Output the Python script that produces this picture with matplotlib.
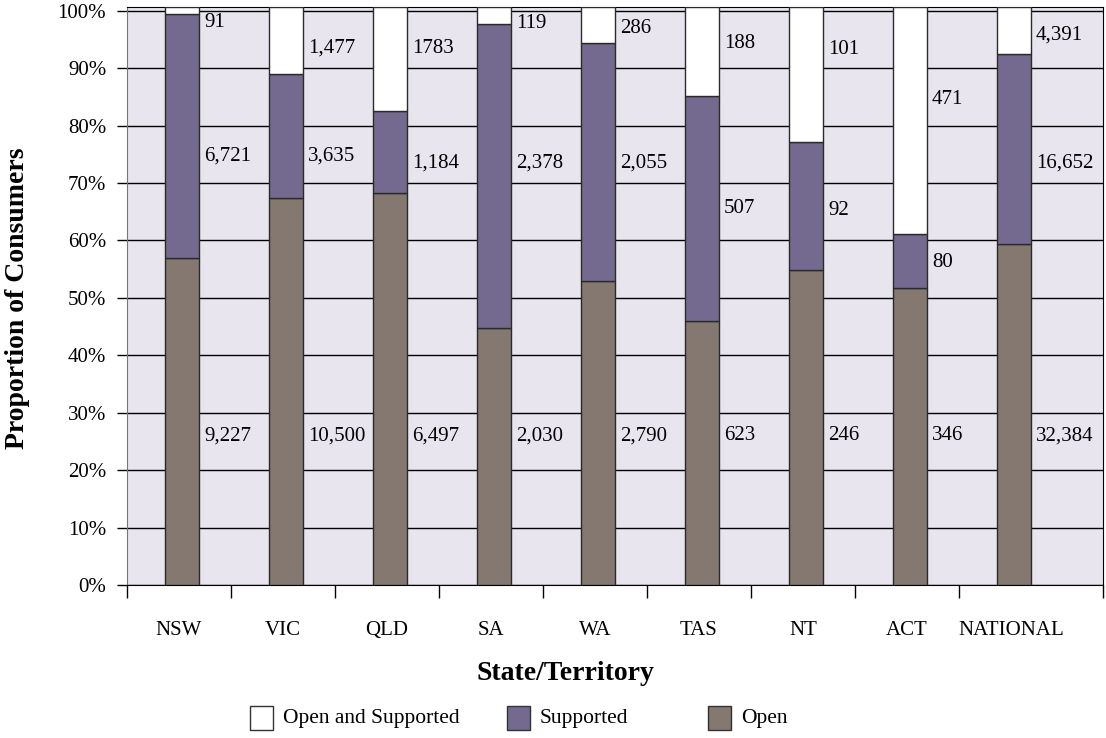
import matplotlib
matplotlib.use("Agg")
import matplotlib.pyplot as plt
import numpy as np
from matplotlib.patches import Rectangle

states = ['NSW', 'VIC', 'QLD', 'SA', 'WA', 'TAS', 'NT', 'ACT', 'NATIONAL']
# bar shares (%)
open_pct = [56.9, 67.4, 68.2, 44.8, 53.0, 46.0, 54.8, 51.7, 59.4]
supported_pct = [42.6, 21.5, 14.3, 52.9, 41.4, 39.1, 22.3, 9.4, 33.1]
# consumer counts printed beside the bars
open_n = ['9,227', '10,500', '6,497', '2,030', '2,790', '623', '246', '346', '32,384']
supported_n = ['6,721', '3,635', '1,184', '2,378', '2,055', '507', '92', '80', '16,652']
both_n = ['91', '1,477', '1783', '119', '286', '188', '101', '471', '4,391']

c_open = '#847871'
c_supp = '#746a8f'
c_both = '#ffffff'
bg = '#e8e5ee'

plt.rcParams['font.family'] = ['Liberation Serif', 'DejaVu Serif']

fig = plt.figure(figsize=(11.06, 7.38), dpi=100)
ax = fig.add_axes([127 / 1106, 1 - 585 / 738, (1103 - 127) / 1106, (585 - 7.3) / 738])
ax.set_facecolor(bg)
ymax = 100.6

x = np.arange(len(states)) + 0.03
w = 0.32
op = np.array(open_pct)
sp = np.array(supported_pct)
ax.bar(x, op, w, color=c_open, edgecolor='#2a2a2a', linewidth=1, zorder=3)
ax.bar(x, sp, w, bottom=op, color=c_supp, edgecolor='#2a2a2a', linewidth=1, zorder=3)
ax.bar(x, ymax - op - sp, w, bottom=op + sp, color=c_both, edgecolor='#2a2a2a',
       linewidth=1, zorder=3)

# label heights (%) as placed in the original chart
open_lab_y = [26.0] * 9
supp_lab_y = [74.7, 74.7, 73.5, 73.5, 73.5, 65.5, 65.2, 56.1, 73.5]
both_lab_y = [98.0, 93.5, 93.5, 97.7, 96.9, 94.3, 93.2, 84.5, 95.8]
for i in range(len(states)):
    tx = x[i] + w / 2 + 0.05
    ax.text(tx, open_lab_y[i], open_n[i], fontsize=15, va='center', ha='left', zorder=4)
    ax.text(tx, supp_lab_y[i], supported_n[i], fontsize=15, va='center', ha='left', zorder=4)
    ax.text(tx, both_lab_y[i], both_n[i], fontsize=15, va='center', ha='left', zorder=4)

ax.set_ylim(0, ymax)
ax.set_xlim(-0.5, 8.885)
ax.set_yticks(np.arange(0, 101, 10))
ax.set_yticklabels([f'{v}%' for v in range(0, 101, 10)], fontsize=15)
ax.yaxis.grid(True, color='black', linewidth=1)
ax.set_axisbelow(True)
ax.tick_params(axis='y', length=7, width=1, pad=8)

ax.set_xticks(np.arange(len(states)))
ax.set_xticklabels(states, fontsize=15)
ax.set_xticks(list(np.arange(-0.5, 8, 1.0)) + [8.885], minor=True)
ax.tick_params(axis='x', which='major', length=0, pad=26)
ax.tick_params(axis='x', which='minor', length=9, width=1)

for s in ['top', 'bottom', 'right']:
    ax.spines[s].set_color('black')
ax.spines['left'].set_color('#777777')

fig.text(18 / 1106, 1 - 298 / 738, 'Proportion of Consumers', rotation=90,
         fontsize=20, fontweight='bold', ha='center', va='center')
fig.text(565 / 1106, 1 - 673 / 738, 'State/Territory', fontsize=20,
         fontweight='bold', ha='center', va='center')

# legend
leg = [('Open and Supported', c_both, 250), ('Supported', c_supp, 507), ('Open', c_open, 708)]
for name, col, px in leg:
    fig.patches.append(Rectangle((px / 1106, 1 - 730 / 738), 23 / 1106, 24 / 738,
                                 transform=fig.transFigure, facecolor=col,
                                 edgecolor='#333333', linewidth=1))
    fig.text((px + 33) / 1106, 1 - 718 / 738, name, fontsize=15.5, ha='left', va='center')

fig.savefig('out.png', dpi=100)
